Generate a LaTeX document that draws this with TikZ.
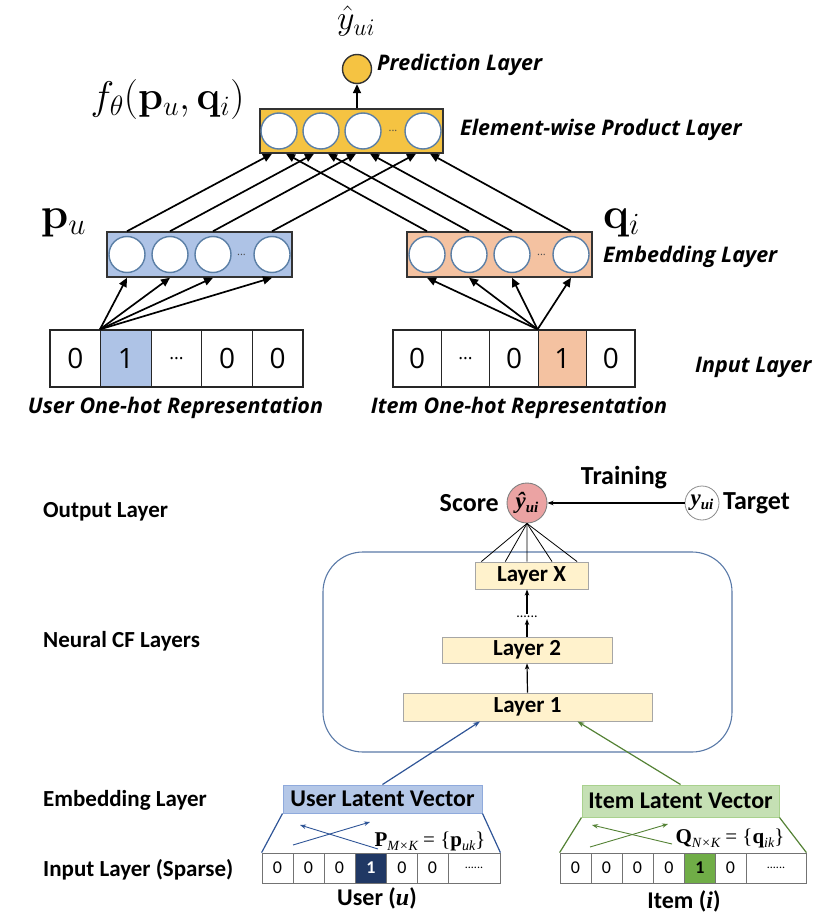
\RequirePackage{fix-cm}
\documentclass[tikz,border=0pt]{standalone}
\usepackage[no-math]{fontspec}
\setmainfont{Carlito}
\newfontfamily\osans{Open Sans}
\newfontfamily\tnr{Liberation Serif}
\usetikzlibrary{arrows.meta,calc}
\newcommand\fs[1]{\fontsize{#1}{#1}\selectfont}
\definecolor{gold}{HTML}{F5C342}
\definecolor{bluetop}{HTML}{AEC3E6}
\definecolor{orangetop}{HTML}{F4C2A1}
\definecolor{circline}{HTML}{5B7FA6}
\definecolor{layerfill}{HTML}{FFF2CC}
\definecolor{layerdraw}{HTML}{A6A6A6}
\definecolor{scorepink}{HTML}{EBA3A3}
\definecolor{ulvfill}{HTML}{B4C7E7}
\definecolor{ulvdraw}{HTML}{8FAADC}
\definecolor{ilvfill}{HTML}{C5E0B4}
\definecolor{ilvdraw}{HTML}{A9D18E}
\definecolor{navy}{HTML}{203864}
\definecolor{grn}{HTML}{70AD47}
\definecolor{ublue}{HTML}{2F5597}
\definecolor{igreen}{HTML}{548235}
\definecolor{frame}{HTML}{5A7AA8}
\definecolor{thin}{HTML}{44546A}
\begin{document}
\begin{tikzpicture}[x=1pt,y=-1pt,
  arr/.style={-{Triangle[length=9pt,width=8pt]}, line width=1.7pt},
  neuron/.style={circle, draw=circline, fill=white, line width=1.4pt, minimum size=36pt, inner sep=0pt},
  ebox/.style={draw=black!80, line width=1.5pt, inner sep=0pt},
  cellt/.style={draw=black!85, line width=1.3pt, minimum width=50.6pt, minimum height=57pt, inner sep=0pt, font=\osans\fs{28}},
  ndots/.style={inner sep=0pt, font=\osans\fs{11}, text=black!70},
  toplbl/.style={font=\osans\bfseries\itshape\fs{21.5}, inner sep=0pt},
  sidelbl/.style={font=\bfseries\fs{23}, inner sep=0pt, anchor=west},
  lay/.style={draw=layerdraw, fill=layerfill, line width=0.9pt, inner sep=0pt, font=\bfseries\fs{23}},
  lvec/.style={line width=1pt, inner sep=0pt, font=\bfseries\fs{24}},
  cellb/.style={draw=black!55, line width=0.8pt, minimum width=31pt, minimum height=30pt, inner sep=0pt, font=\fs{18}},
  sarr/.style={-{Stealth[length=6pt,width=4.5pt]}, line width=0.9pt},
]
\useasboundingbox (0,0) rectangle (838,915);

% ---------- upper network ----------
% one-hot input cells
\node[cellt] (uc1) at (75.3,358.5) {0};
\node[cellt, fill=bluetop] (uc2) at (125.9,358.5) {1};
\node[cellt] (uc3) at (176.5,358.5) {\fs{18}...};
\node[cellt] (uc4) at (227.1,358.5) {0};
\node[cellt] (uc5) at (277.7,358.5) {0};
\coordinate (uin) at (uc2.north west);

\node[cellt, minimum width=48.4pt] (ic1) at (417.2,358.5) {0};
\node[cellt, minimum width=48.4pt] (ic2) at (465.6,358.5) {\fs{18}...};
\node[cellt, minimum width=48.4pt] (ic3) at (514.0,358.5) {0};
\node[cellt, minimum width=48.4pt, fill=orangetop] (ic4) at (562.4,358.5) {1};
\node[cellt, minimum width=48.4pt] (ic5) at (610.8,358.5) {0};
\coordinate (iin) at (ic4.north west);

% embedding layers
\node[ebox, fill=bluetop, minimum width=185pt, minimum height=45pt] (ubox) at (199.5,254.5) {};
\node[neuron] (u1) at (127,254.5) {};
\node[neuron] (u2) at (170,254.5) {};
\node[neuron] (u3) at (213,254.5) {};
\node[neuron] (u4) at (272,254.5) {};
\node[ndots] at (241.5,254.5) {...};

\node[ebox, fill=orangetop, minimum width=185pt, minimum height=45pt] (ibox) at (499.5,254.5) {};
\node[neuron] (v1) at (427,254.5) {};
\node[neuron] (v2) at (469,254.5) {};
\node[neuron] (v3) at (512,254.5) {};
\node[neuron] (v4) at (571,254.5) {};
\node[ndots] at (541.5,254.5) {...};

% element-wise product layer
\node[ebox, fill=gold, minimum width=183pt, minimum height=44pt] (pbox) at (351.5,131) {};
\node[neuron] (e1) at (279,131) {};
\node[neuron] (e2) at (321,131) {};
\node[neuron] (e3) at (363,131) {};
\node[neuron] (e4) at (423,131) {};
\node[ndots] at (393,131) {...};

% prediction
\node[circle, draw=black!80, fill=gold, line width=1.4pt, minimum size=29pt, inner sep=0pt] (pred) at (357,69) {};

% connections
\foreach \c in {u1,u2,u3,u4} \draw[arr] (uin) -- (\c.center |- ubox.south);
\foreach \c in {v1,v2,v3,v4} \draw[arr] (iin) -- (\c.center |- ibox.south);
\foreach \a/\b in {u1/e1,u2/e2,u3/e3,u4/e4}
  \draw[arr] (\a.center |- ubox.north) -- ($(\b.center |- pbox.south)+(-7,0)$);
\foreach \a/\b in {v1/e1,v2/e2,v3/e3,v4/e4}
  \draw[arr] (\a.center |- ibox.north) -- ($(\b.center |- pbox.south)+(7,0)$);
\draw[arr] (pred.south |- pbox.north) -- (pred.south);

% labels
\node[toplbl, anchor=west] (lpred) at (377,65) {Prediction Layer};
\node[toplbl, anchor=west] (lprod) at (460,130) {Element-wise Product Layer};
\node[toplbl, anchor=west] (lemb) at (603,257) {Embedding Layer};
\node[toplbl, anchor=west] (linp) at (695,367) {Input Layer};
\node[toplbl] (luser) at (175.5,408) {User One-hot Representation};
\node[toplbl] (litem) at (519,408) {Item One-hot Representation};
\node[inner sep=0pt, anchor=base] (myhat) at (356,30) {\fs{34}$\hat{y}_{ui}$};
\node[inner sep=0pt, anchor=base] (mf) at (167.5,110) {\fs{40}$f_\theta(\mathbf{p}_u,\mathbf{q}_i)$};
\node[inner sep=0pt, anchor=base] (mp) at (63.5,228) {\fs{44}$\mathbf{p}_u$};
\node[inner sep=0pt, anchor=base] (mq) at (621.5,228) {\fs{44}$\mathbf{q}_i$};

% ---------- lower network ----------
\node[sidelbl] (sout) at (43,512) {Output Layer};
\node[sidelbl] (scf) at (43,641) {Neural CF Layers};
\node[sidelbl] (semb) at (43,800) {Embedding Layer};
\node[sidelbl] (sinp) at (43,870) {Input Layer (Sparse)};

\draw[frame, line width=1.1pt, rounded corners=40pt] (323,552) rectangle (732,752);

\node[lay, minimum width=113pt, minimum height=27pt] (lx) at (531.5,575.5) {Layer X};
\node[inner sep=0pt, font=\fs{14}] (ldots) at (527,617) {......};
\node[lay, minimum width=170pt, minimum height=26pt] (l2) at (527,650) {Layer 2};
\node[lay, minimum width=249pt, minimum height=28pt] (l1) at (527.5,707) {Layer 1};
\draw[sarr, line width=1.2pt] (l1.north) -- (l2.south);
\draw[sarr, line width=1.2pt] (l2.north) -- ($(ldots.south)+(0,1)$);
\draw[sarr, line width=1.2pt] ($(ldots.north)+(0,-2)$) -- (ldots.north |- lx.south);

% score and target
\node[circle, draw=black!50, fill=scorepink, line width=0.9pt, minimum size=40pt, inner sep=0pt] (score) at (527,503)
  {\tnr\bfseries\itshape\fs{23}ŷ\raisebox{-4pt}{\fs{15}ui}};
\node[circle, draw=black!45, fill=white, line width=0.8pt, minimum size=34pt, inner sep=0pt] (target) at (702,503)
  {\tnr\bfseries\itshape\fs{23}y\raisebox{-4pt}{\fs{15}ui}};
\node[inner sep=0pt, anchor=east, font=\bfseries\fs{26}] (lscore) at (499,503) {Score};
\node[inner sep=0pt, anchor=west, font=\bfseries\fs{26}] (ltarget) at (723,503) {Target};
\node[inner sep=0pt, font=\bfseries\fs{26}] (ltrain) at (624,478) {Training};
\draw[sarr, line width=1.1pt] (target.west) -- (score.east);
\foreach \f in {0.06,0.27,0.46,0.68,0.90}
  \draw[thin, line width=0.8pt] (score.south) -- ($(lx.north west)!\f!(lx.north east)$);

% latent vectors
\node[lvec, draw=ulvdraw, fill=ulvfill, minimum width=199pt, minimum height=28pt] (ulv) at (382.5,799) {User Latent Vector};
\node[lvec, draw=ilvdraw, fill=ilvfill, minimum width=197pt, minimum height=32pt] (ilv) at (680.5,801) {Item Latent Vector};
\draw[ublue, line width=1.2pt, -{Stealth[length=7pt,width=5pt]}] (ulv.north) -- ($(l1.south west)!0.31!(l1.south east)$);
\draw[igreen, line width=1.2pt, -{Stealth[length=7pt,width=5pt]}] (ilv.north) -- ($(l1.south west)!0.70!(l1.south east)$);

% sparse user input
\node[cellb] (b1) at (277.5,868) {0};
\node[cellb] (b2) at (308.5,868) {0};
\node[cellb] (b3) at (339.5,868) {0};
\node[cellb, fill=navy, text=white, font=\bfseries\fs{18}] (b4) at (371,868) {1};
\node[cellb] (b5) at (402,868) {0};
\node[cellb] (b6) at (432.5,868) {0};
\node[cellb, minimum width=52pt] (b7) at (474,868) {\fs{12}......};
\draw[ublue, line width=1.2pt] (ulv.south west) -- (b1.north west);
\draw[ublue, line width=1.2pt] (ulv.south east) -- (b7.north east);
\coordinate (ua1) at (293,845); \coordinate (ua2) at (370,822);
\coordinate (ub1) at (378,849); \coordinate (ub2) at (300,825);
\draw[sarr, ublue] (ua1) -- (ua2);
\draw[sarr, ublue] (ub1) -- (ub2);
\node[inner sep=0pt, font=\tnr\fs{21}] (pmat) at (430,841)
  {\textbf{P}\raisebox{-4pt}{\itshape\fs{14}M×K} = \{\textbf{p}\raisebox{-4pt}{\itshape\fs{14}uk}\}};
\node[inner sep=0pt, font=\bfseries\fs{24}] (luu) at (377,898) {User ({\tnr\itshape u})};

% sparse item input
\node[cellb] (c1) at (575.5,868) {0};
\node[cellb] (c2) at (606.5,868) {0};
\node[cellb] (c3) at (637.5,868) {0};
\node[cellb] (c4) at (669,868) {0};
\node[cellb, fill=grn, font=\bfseries\fs{18}] (c5) at (700,868) {1};
\node[cellb] (c6) at (730.5,868) {0};
\node[cellb, minimum width=60pt] (c7) at (776,868) {\fs{12}......};
\draw[igreen, line width=1.2pt] (ilv.south west) -- (c1.north west);
\draw[igreen, line width=1.2pt] (ilv.south east) -- (c7.north east);
\coordinate (ia1) at (590,847); \coordinate (ia2) at (668,824);
\coordinate (ib1) at (672,844); \coordinate (ib2) at (592,825);
\draw[sarr, igreen] (ia1) -- (ia2);
\draw[sarr, igreen] (ib1) -- (ib2);
\node[inner sep=0pt, font=\tnr\fs{21}] (qmat) at (730,838)
  {\textbf{Q}\raisebox{-4pt}{\itshape\fs{14}N×K} = \{\textbf{q}\raisebox{-4pt}{\itshape\fs{14}ik}\}};
\node[inner sep=0pt, font=\bfseries\fs{24}] (lii) at (684,901) {Item ({\tnr\itshape i})};
\end{tikzpicture}
\end{document}
